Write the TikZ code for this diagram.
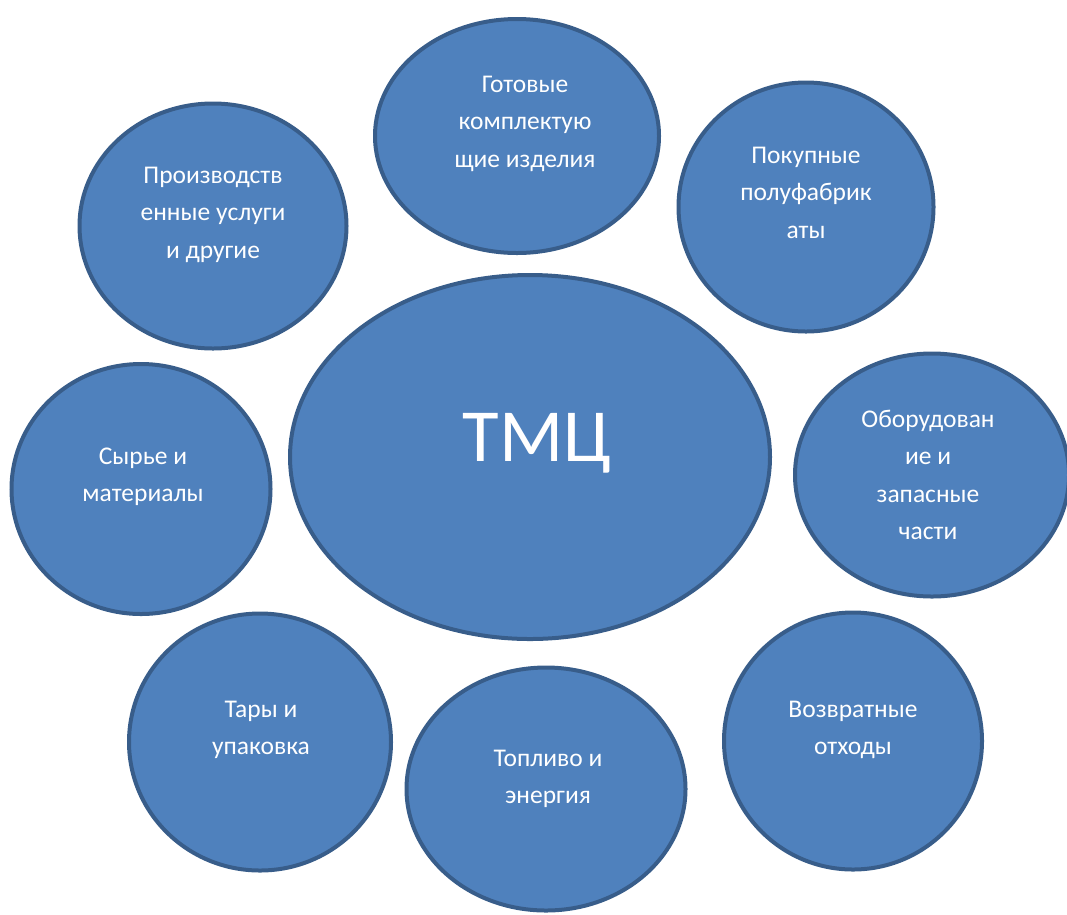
\documentclass[tikz,border=0pt]{standalone}
\usepackage{fontspec}
\setmainfont{Carlito}
\usetikzlibrary{shapes.geometric}
\definecolor{bubblefill}{HTML}{4F81BD}
\definecolor{bubbleline}{HTML}{385D8A}
\tikzset{bubble/.style={
        ellipse,draw=bubbleline,fill=bubblefill,line width=4pt,inner sep=0pt
    },
    bubbletext/.style={
        text=white,align=center,anchor=base,inner sep=0pt,
        font=\fontsize{25.5}{37.5}\selectfont
    }
}

\begin{document}
\begin{tikzpicture}[x=1pt,y=-1pt]
      \useasboundingbox (0,0) rectangle (1067,914);
      \node[bubble,minimum width=480,minimum height=364] (tmc) at (530,457) {};
      \node[bubble,minimum width=284,minimum height=234] (gotov) at (517,136) {};
      \node[bubble,minimum width=255,minimum height=249] (pokup) at (806,207) {};
      \node[bubble,minimum width=267,minimum height=245] (proizv) at (213,226) {};
      \node[bubble,minimum width=259,minimum height=250] (syrye) at (141,489) {};
      \node[bubble,minimum width=274,minimum height=243] (obor) at (932,475) {};
      \node[bubble,minimum width=262,minimum height=257] (tara) at (260,742) {};
      \node[bubble,minimum width=279,minimum height=243] (topl) at (546,789) {};
      \node[bubble,minimum width=258,minimum height=257] (vozvr) at (853,741) {};
      %texts (base = last line)
      \node[bubbletext,font=\fontsize{75}{90}\selectfont] (tmc-text) at (537,461) {ТМЦ};
      \node[bubbletext] (gotov-text) at (525,167) {Готовые\\комплектую\\щие изделия};
      \node[bubbletext] (pokup-text) at (806,238) {Покупные\\полуфабрик\\аты};
      \node[bubbletext] (proizv-text) at (213,258) {Производств\\енные услуги\\и другие};
      \node[bubbletext] (syrye-text) at (143,501.5) {Сырье и\\материалы};
      \node[bubbletext] (obor-text) at (928,539.5) {Оборудован\\ие и\\запасные\\части};
      \node[bubbletext] (tara-text) at (261,754.5) {Тары и\\упаковка};
      \node[bubbletext] (topl-text) at (548,803.5) {Топливо и\\энергия};
      \node[bubbletext] (vozvr-text) at (853,754.5) {Возвратные\\отходы};
\end{tikzpicture}
\end{document}
